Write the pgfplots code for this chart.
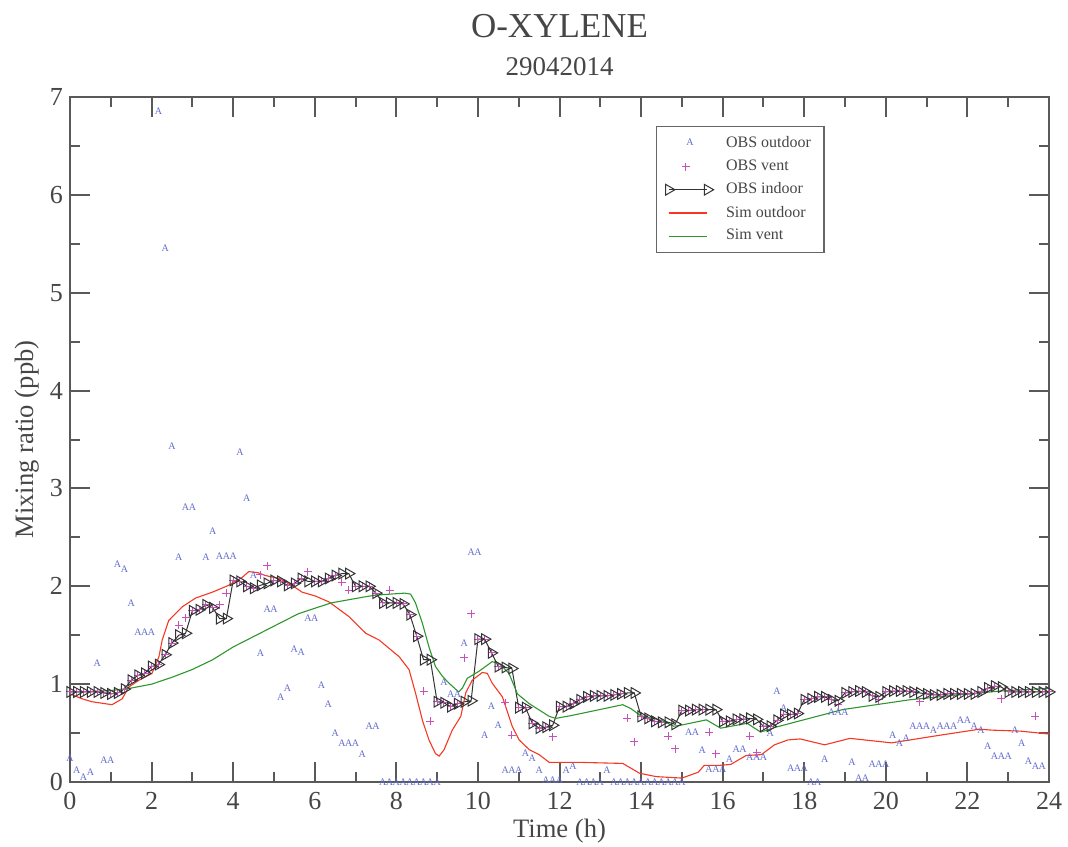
\documentclass[border=0pt]{standalone}
\usepackage{pgfplots}
\pgfplotsset{compat=1.18}
\usepackage{fontspec}
\setmainfont{Liberation Serif}
\definecolor{oblue}{RGB}{95,105,205}
\definecolor{vpink}{RGB}{200,80,185}
\definecolor{sred}{RGB}{245,55,35}
\definecolor{sgreen}{RGB}{45,150,45}
\definecolor{txt}{RGB}{70,70,70}
\pgfplotsset{twoends/.style={legend image code/.code={\draw[##1] plot coordinates {(0cm,0cm) (0.68cm,0cm)};}},
  longline/.style={legend image code/.code={\draw[##1] (0cm,0cm) -- (0.68cm,0cm);}}}
\begin{document}
\begin{tikzpicture}
\begin{axis}[
 scale only axis, width=489.5pt, height=342.5pt,
 at={(0,0)}, anchor=south west,
 xmin=0, xmax=24, ymin=0, ymax=7,
 xtick={0,2,...,24}, ytick={0,1,...,7},
 minor x tick num=1, minor y tick num=1,
 major tick length=10pt, minor tick length=5pt,
 tick style={black!65, line width=1pt},
 axis line style={black!65, line width=1pt},
 /pgf/number format/assume math mode=true,
 ticklabel style={font=\fontsize{13}{15}\selectfont, text=txt},
 xticklabel style={yshift=-1.5pt},
 yticklabel style={xshift=0pt},
 xlabel={Time (h)}, ylabel={Mixing ratio (ppb)},
 label style={font=\fontsize{13.3}{15}\selectfont, text=txt},
 xlabel style={at={(axis description cs:0.5,-0.0803)}, anchor=base},
 ylabel style={at={(axis description cs:-0.0439,0.5)}, anchor=center},
 legend style={at={(0.5986,0.9577)}, anchor=north west, draw=black!60, line width=0.6pt,
   font=\fontsize{8}{9}\selectfont, text=txt, inner xsep=4.5pt, inner ysep=3pt, row sep=0.6pt,
   nodes={inner ysep=2pt},
   /tikz/every odd column/.append style={column sep=4.2pt}},
 legend cell align=left,
]
% OBS outdoor
\addplot[only marks, color=oblue, mark=text, text mark={A}, text mark as node=true,
  text mark style={font=\fontsize{5}{6}\selectfont, inner sep=0pt, text=oblue}]
  table[x expr=\thisrowno{0}/6, y index=1] {
k v
0 0.24
1 0.12
2 0.05
3 0.10
4 1.21
5 0.22
6 0.22
7 2.23
8 2.17
9 1.83
10 1.53
11 1.53
12 1.53
13 6.86
14 5.45
15 3.43
16 2.30
17 2.81
18 2.81
20 2.30
21 2.56
22 2.31
23 2.31
24 2.31
25 3.37
26 2.90
27 2.11
28 1.32
29 1.77
30 1.77
31 0.87
32 0.96
33 1.36
34 1.33
35 1.67
36 1.67
37 0.99
38 0.80
39 0.50
40 0.40
41 0.40
42 0.40
43 0.28
44 0.57
45 0.57
46 0
47 0
48 0
49 0
50 0
51 0
52 0
53 0
54 0
55 1.02
56 0.90
57 0.90
58 1.42
59 2.35
60 2.35
61 0.48
62 0.77
63 0.58
64 0.12
65 0.12
66 0.12
67 0.29
68 0.24
69 0.12
70 0.02
71 0.02
72 0.02
73 0.12
74 0.16
75 0
76 0
77 0
78 0
79 0.12
80 0
81 0
82 0
83 0
84 0
85 0
86 0
87 0
88 0
89 0
90 0
91 0.51
92 0.51
93 0.32
94 0.13
95 0.13
96 0.13
97 0.23
98 0.34
99 0.34
100 0.25
101 0.25
102 0.25
103 0.50
104 0.93
105 0.75
106 0.14
107 0.14
108 0.14
109 0
110 0
111 0.23
112 0.71
113 0.71
114 0.71
115 0.20
116 0.04
117 0.04
118 0.18
119 0.18
120 0.18
121 0.48
122 0.40
123 0.45
124 0.57
125 0.57
126 0.57
127 0.53
128 0.57
129 0.57
130 0.57
131 0.63
132 0.63
133 0.57
134 0.53
135 0.37
136 0.26
137 0.26
138 0.26
139 0.53
140 0.40
141 0.21
142 0.16
143 0.16
};
\addlegendentry{OBS outdoor}
% OBS vent
\addplot[only marks, color=vpink, mark=+, mark size=2pt, line width=0.5pt]
  table[x expr=\thisrowno{0}/6, y index=1] {
k v
0 0.92
1 0.92
2 0.92
3 0.92
4 0.92
5 0.91
6 0.90
7 0.91
8 0.95
9 1.04
10 1.09
11 1.11
12 1.18
13 1.20
14 1.30
15 1.42
16 1.60
17 1.68
18 1.75
19 1.76
20 1.81
21 1.78
22 1.81
23 1.93
24 2.06
25 2.05
26 2.00
27 1.98
28 2.12
29 2.21
30 2.06
31 2.05
32 2.01
33 2.03
34 2.08
35 2.15
36 2.05
37 2.05
38 2.08
39 2.11
40 2.04
41 1.96
42 2.00
43 2.00
44 2.00
45 1.93
46 1.83
47 1.96
48 1.83
49 1.82
50 1.71
51 1.49
52 0.93
53 0.62
54 0.82
55 0.81
56 0.77
57 0.80
58 1.27
59 1.72
60 1.46
61 1.46
62 1.32
63 1.18
64 0.81
65 0.48
66 0.76
67 0.76
68 0.60
69 0.55
70 0.56
71 0.46
72 0.77
73 0.77
74 0.80
75 0.84
76 0.87
77 0.88
78 0.88
79 0.88
80 0.89
81 0.90
82 0.65
83 0.41
84 0.67
85 0.65
86 0.62
87 0.61
88 0.47
89 0.34
90 0.73
91 0.73
92 0.74
93 0.74
94 0.51
95 0.29
96 0.62
97 0.62
98 0.64
99 0.64
100 0.47
101 0.30
102 0.57
103 0.57
104 0.63
105 0.69
106 0.69
107 0.70
108 0.84
109 0.85
110 0.87
111 0.87
112 0.84
113 0.79
114 0.91
115 0.92
116 0.93
117 0.92
118 0.88
119 0.84
120 0.92
121 0.93
122 0.93
123 0.93
124 0.92
125 0.82
126 0.90
127 0.89
128 0.89
129 0.90
130 0.90
131 0.90
132 0.90
133 0.90
134 0.92
135 0.96
136 0.98
137 0.85
138 0.92
139 0.92
140 0.92
141 0.92
142 0.67
143 0.92
144 0.92
};
\addlegendentry{OBS vent}
% OBS indoor
\addplot[color=black!80, line width=0.5pt, mark=triangle, mark size=3.1pt,
  mark options={rotate=-90, solid, fill=none}, twoends]
  table[x expr=\thisrowno{0}/6, y index=1] {
k v
0 0.92
1 0.92
2 0.92
3 0.92
4 0.92
5 0.91
6 0.90
7 0.91
8 0.95
9 1.04
10 1.09
11 1.11
12 1.18
13 1.20
14 1.30
15 1.42
16 1.50
17 1.52
18 1.75
19 1.76
20 1.81
21 1.78
22 1.67
23 1.67
24 2.06
25 2.05
26 2.00
27 1.98
28 2.01
29 2.03
30 2.06
31 2.05
32 2.01
33 2.03
34 2.08
35 2.05
36 2.05
37 2.05
38 2.08
39 2.11
40 2.13
41 2.13
42 2.00
43 2.00
44 2.00
45 1.93
46 1.83
47 1.83
48 1.83
49 1.82
50 1.71
51 1.49
52 1.25
53 1.25
54 0.82
55 0.81
56 0.77
57 0.80
58 0.82
59 0.83
60 1.46
61 1.46
62 1.32
63 1.18
64 1.17
65 1.16
66 0.76
67 0.76
68 0.60
69 0.55
70 0.56
71 0.58
72 0.77
73 0.77
74 0.80
75 0.84
76 0.87
77 0.88
78 0.88
79 0.88
80 0.89
81 0.90
82 0.91
83 0.91
84 0.67
85 0.65
86 0.62
87 0.61
88 0.61
89 0.59
90 0.73
91 0.73
92 0.74
93 0.74
94 0.74
95 0.74
96 0.62
97 0.62
98 0.64
99 0.64
100 0.65
101 0.64
102 0.57
103 0.57
104 0.63
105 0.69
106 0.69
107 0.70
108 0.84
109 0.85
110 0.87
111 0.87
112 0.84
113 0.83
114 0.91
115 0.92
116 0.93
117 0.92
118 0.88
119 0.87
120 0.92
121 0.93
122 0.93
123 0.93
124 0.92
125 0.91
126 0.90
127 0.89
128 0.89
129 0.90
130 0.90
131 0.90
132 0.90
133 0.90
134 0.92
135 0.96
136 0.98
137 0.97
138 0.92
139 0.92
140 0.92
141 0.92
142 0.92
143 0.92
144 0.92
};
\addlegendentry{OBS indoor}
% Sim outdoor
\addplot[color=sred, line width=0.55pt, no marks, longline] coordinates {
(0,0.90) (0.3,0.85) (0.54,0.82) (1.03,0.79) (1.28,0.85) (1.44,0.97) (1.69,1.04)
(2.01,1.11) (2.18,1.28) (2.26,1.45) (2.42,1.65) (2.75,1.79) (3.08,1.88) (3.49,1.94)
(3.89,2.01) (4.22,2.09) (4.38,2.15) (4.6,2.14) (4.79,2.11) (5.12,2.08) (5.37,2.03)
(5.69,1.94) (6.02,1.90) (6.35,1.84) (6.84,1.69) (7.25,1.52) (7.58,1.45) (8.07,1.28)
(8.31,1.15) (8.47,0.91) (8.64,0.63) (8.8,0.43) (8.96,0.29) (9.05,0.265) (9.17,0.33)
(9.37,0.53) (9.58,0.67) (9.70,0.91) (9.86,1.04) (10.11,1.12) (10.23,1.11) (10.35,1.01)
(10.6,0.87) (10.84,0.57) (11.01,0.43) (11.26,0.33) (11.5,0.28) (11.75,0.20) (12.56,0.20)
(13.55,0.19) (13.96,0.09) (14.37,0.055) (15.0,0.04) (15.4,0.10) (15.55,0.17) (15.92,0.17)
(16.2,0.18) (16.57,0.27) (16.95,0.28) (17.27,0.38) (17.6,0.43) (17.9,0.44) (18.5,0.38)
(19.12,0.446) (20.14,0.40) (21.2,0.47) (22.3,0.54) (22.6,0.53) (23.3,0.52) (24,0.49)
};
\addlegendentry{Sim outdoor}
% Sim vent
\addplot[color=sgreen, line width=0.55pt, no marks, longline] coordinates {
(0,0.92) (0.5,0.925) (1.0,0.935) (1.5,0.96) (2.0,1.0) (2.5,1.07) (3.0,1.15) (3.5,1.25)
(4.0,1.38) (4.8,1.55) (5.6,1.72) (6.4,1.83) (7.2,1.89) (7.5,1.91) (8.2,1.93) (8.35,1.92)
(8.47,1.83) (8.64,1.62) (8.8,1.38) (8.96,1.18) (9.13,1.08) (9.29,1.01) (9.53,0.92)
(9.62,0.96) (9.74,1.06) (10.02,1.13) (10.35,1.23) (10.52,1.21) (10.76,1.11) (10.97,0.90)
(11.26,0.80) (11.75,0.67) (11.91,0.65) (12.3,0.68) (13.55,0.79) (13.75,0.75) (13.98,0.68)
(14.5,0.63) (14.8,0.57) (14.97,0.58) (15.6,0.635) (15.95,0.55) (16.6,0.60) (16.93,0.51)
(17.3,0.56) (18.12,0.65) (18.94,0.74) (19.76,0.79) (20.58,0.84) (21.18,0.865) (22.0,0.90)
(22.82,0.93) (23.97,0.957) (24,0.96)
};
\addlegendentry{Sim vent}
\end{axis}
\node[anchor=base, text=txt, font=\fontsize{17.5}{20}\selectfont] at (244.75pt,372.3pt) {O-XYLENE};
\node[anchor=base, text=txt, font=\fontsize{13.5}{15}\selectfont] at (244.75pt,353pt) {29042014};
\pgfresetboundingbox
\path (-35pt,-32pt) rectangle (499pt,391pt);
\end{tikzpicture}
\end{document}
